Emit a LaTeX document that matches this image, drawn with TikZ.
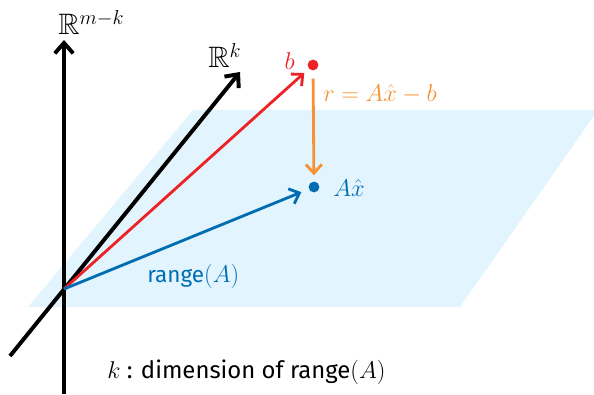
\documentclass[tikz,border=0pt]{standalone}
\usepackage{amsmath}
\usepackage{amssymb}
\usepackage{xcolor}
\usepackage{fontspec}
\setmainfont{Fira Sans}
\usepackage{tikz}
\usetikzlibrary{arrows.meta, positioning}

\definecolor{planeblue}{RGB}{226,244,253}
\definecolor{vecred}{RGB}{236,34,39}
\definecolor{vecblue}{RGB}{0,108,178}
\definecolor{resorange}{RGB}{247,146,52}

\begin{document}
\begin{tikzpicture}[
    axis/.style={line width=2.8pt, -{Straight Barb[length=2.6mm, width=4.6mm, line width=2.8pt]}},
    vec/.style={line width=2pt, -{Straight Barb[length=2.2mm, width=4mm, line width=2pt]}},
    dot/.style={circle, inner sep=0pt, minimum size=0.27cm},
    lbl/.style={inner sep=0pt, font=\fontsize{16}{19}\selectfont}
  ]
    \useasboundingbox (0,0) rectangle (14.85,9.85);

    % The plane range(A)
    \fill[planeblue] (0.7,2.175) -- (11.5,2.175) -- (14.95,7.1) -- (4.825,7.1) -- cycle;

    % Origin and axis ends
    \coordinate (O) at (1.6,2.625);
    \coordinate (vBot) at (1.6,0);
    \coordinate (vTip) at (1.6,8.85);
    \coordinate (dBot) at (0.25,0.95);
    \coordinate (dTip) at (6.0,8.05);

    % Axes
    \draw[axis] (vBot) -- (vTip);
    \draw[axis] (dBot) -- (dTip);
    \node[lbl, anchor=base west, font=\fontsize{21}{24}\selectfont] (Rmk) at (1.45,8.975) {$\mathbb{R}^{m-k}$};
    \node[lbl, anchor=base west, font=\fontsize{21}{24}\selectfont] (Rk) at (5.2,8.15) {$\mathbb{R}^{k}$};

    % Points b and A x-hat
    \node[dot, fill=vecred] (bDot) at (7.825,8.225) {};
    \node[dot, fill=vecblue] (AxDot) at (7.85,5.175) {};

    % Vectors
    \draw[vec, vecred, shorten >=0.15cm] (O) -- (bDot);
    \draw[vec, vecblue, shorten >=0.2cm] (O) -- (AxDot);
    \draw[vec, resorange, shorten <=0.2cm, shorten >=0.15cm] (bDot) -- (AxDot);

    % Labels
    \node[lbl, anchor=base east, text=vecred, font=\fontsize{17}{19}\selectfont] (bLbl) at (7.375,8.1) {$b$};
    \node[lbl, anchor=west, text=resorange] (rLbl) at (8.075,7.5) {$r = A\hat{x} - b$};
    \node[lbl, anchor=west, text=vecblue, font=\fontsize{17}{19}\selectfont] (AxLbl) at (8.325,5.15) {$A\hat{x}$};
    \node[lbl, anchor=base west, text=vecblue] (rangeLbl) at (3.675,2.775) {range$(A)$};
    \node[lbl, anchor=base west, font=\fontsize{17}{20}\selectfont] (note) at (2.675,0.4) {$k$ : dimension of range$(A)$};
\end{tikzpicture}
\end{document}
